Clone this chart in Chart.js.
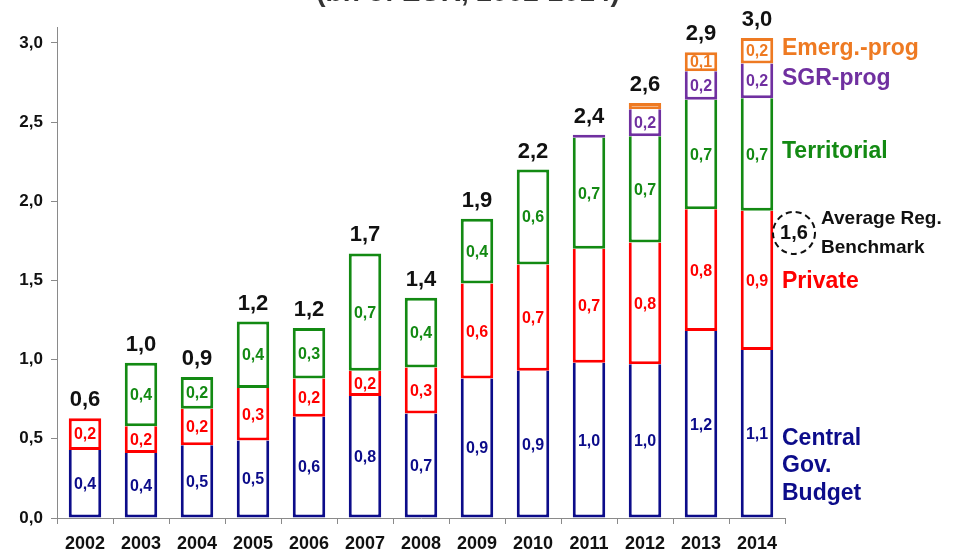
<!DOCTYPE html>
<html>
<head>
<meta charset="utf-8">
<script src="https://cdn.jsdelivr.net/npm/chart.js@4.4.1/dist/chart.umd.min.js"></script>
<style>
  html, body { margin: 0; padding: 0; background: #fff; }
  #wrap { width: 959px; height: 550px; position: relative; }
</style>
</head>
<body>
<div id="wrap"><canvas id="fundChart"></canvas></div>
<script>
const years = ["2002", "2003", "2004", "2005", "2006", "2007", "2008", "2009", "2010", "2011", "2012", "2013", "2014"];
const centralGov = [0.43, 0.41, 0.46, 0.49, 0.64, 0.77, 0.66, 0.88, 0.93, 0.98, 0.97, 1.18, 1.06];
const privateFunds = [0.2, 0.17, 0.23, 0.33, 0.24, 0.16, 0.29, 0.6, 0.67, 0.72, 0.77, 0.77, 0.88];
const territorial = [0, 0.4, 0.2, 0.42, 0.32, 0.74, 0.44, 0.41, 0.6, 0.7, 0.67, 0.69, 0.71];
const sgrProg = [0, 0, 0, 0, 0, 0, 0, 0, 0, 0.02, 0.17, 0.18, 0.22];
const emergProg = [0, 0, 0, 0, 0, 0, 0, 0, 0, 0, 0.04, 0.12, 0.16];
const yTicks = [0, 0.5, 1, 1.5, 2, 2.5, 3];
const benchmark = 1.6;

const seriesNames = ["Central Gov. Budget", "Private", "Territorial", "SGR-prog", "Emerg.-prog"];
const seriesValues = [centralGov, privateFunds, territorial, sgrProg, emergProg];
const seriesColors = ["#0c0c8a", "#ff0000", "#138a13", "#7030a0", "#ee7a22"];

const FONT = "'Liberation Sans', Arial, sans-serif";
const fmt = v => v.toFixed(1).replace(".", ",");

// top-most non empty segment of each year keeps its top border
function topIndex(i) {
  let top = 0;
  seriesValues.forEach((arr, d) => { if (arr[i] > 0) top = d; });
  return top;
}

const datasets = seriesValues.map((arr, d) => ({
  label: seriesNames[d],
  data: arr,
  backgroundColor: "#ffffff",
  borderColor: seriesColors[d],
  borderWidth: 3,
  borderSkipped: ctx => (topIndex(ctx.dataIndex) === ctx.datasetIndex ? false : "top"),
  barPercentage: 0.58,
  categoryPercentage: 1,
}));

const labelsPlugin = {
  id: "segmentLabels",
  afterDatasetsDraw(chart) {
    const c = chart.ctx;
    c.save();
    c.textAlign = "center";
    c.textBaseline = "middle";
    chart.data.datasets.forEach((ds, d) => {
      const meta = chart.getDatasetMeta(d);
      meta.data.forEach((bar, i) => {
        const v = ds.data[i];
        if (v < 0.1) return;
        c.fillStyle = seriesColors[d];
        c.font = "bold 16px " + FONT;
        c.fillText(fmt(v), bar.x, (bar.y + bar.base) / 2 + 1);
      });
    });
    // totals
    const y = chart.scales.y;
    const x = chart.scales.x;
    c.fillStyle = "#111";
    c.font = "bold 22px " + FONT;
    c.textBaseline = "alphabetic";
    years.forEach((yr, i) => {
      const total = seriesValues.reduce((s, arr) => s + arr[i], 0);
      c.fillText(fmt(total), x.getPixelForValue(i), y.getPixelForValue(total) - 12);
    });
    c.restore();
  },
};

const sideNotes = {
  id: "sideNotes",
  afterDraw(chart) {
    const c = chart.ctx;
    const y = chart.scales.y;
    const left = chart.chartArea.right - 3;
    c.save();
    c.textAlign = "left";
    c.textBaseline = "middle";
    c.font = "bold 23px " + FONT;
    const notes = [
      ["Emerg.-prog", 2.97, seriesColors[4]],
      ["SGR-prog", 2.78, seriesColors[3]],
      ["Territorial", 2.32, seriesColors[2]],
      ["Private", 1.5, seriesColors[1]],
      ["Central", 0.51, seriesColors[0]],
      ["Gov.", 0.335, seriesColors[0]],
      ["Budget", 0.158, seriesColors[0]],
    ];
    notes.forEach(([t, v, col]) => {
      c.fillStyle = col;
      c.fillText(t, left, y.getPixelForValue(v) + 1);
    });

    // benchmark bubble
    const cy = y.getPixelForValue(benchmark + 0.2);
    const cx = left + 12;
    c.strokeStyle = "#111";
    c.lineWidth = 2;
    c.setLineDash([6, 4]);
    c.beginPath();
    c.arc(cx, cy, 21, 0, Math.PI * 2);
    c.stroke();
    c.setLineDash([]);
    c.fillStyle = "#111";
    c.textAlign = "center";
    c.font = "bold 20px " + FONT;
    c.fillText(fmt(benchmark), cx, cy + 1);
    c.textAlign = "left";
    c.font = "bold 19px " + FONT;
    c.fillText("Average Reg.", cx + 27, cy - 14);
    c.fillText("Benchmark", cx + 27, cy + 15);

    // title, mostly cut by the top edge
    c.textAlign = "center";
    c.textBaseline = "alphabetic";
    c.fillStyle = "#333";
    c.font = "bold 28px " + FONT;
    c.fillText("(bn of EUR, 2002-2014)", 468, 1);
    c.restore();
  },
};

const ctx = document.getElementById("fundChart");

const fundChart = new Chart(ctx, {
  type: "bar",
  data: { labels: years, datasets: datasets },
  options: {
    responsive: true,
    maintainAspectRatio: false,
    animation: false,
    layout: { padding: { top: 27, right: 174, left: 0, bottom: 0 } },
    plugins: {
      legend: { display: false },
      tooltip: { enabled: false },
    },
    scales: {
      x: {
        stacked: true,
        afterFit: s => { s.height = 32; },
        grid: { display: true, drawOnChartArea: false, tickLength: 6, color: "#8a8a8a", offset: true },
        border: { color: "#8a8a8a", width: 1 },
        ticks: { color: "#111", font: { family: FONT, size: 18, weight: "bold" }, padding: 9 },
      },
      y: {
        stacked: true,
        min: 0,
        max: 3.1,
        afterFit: s => { s.width = 57; },
        afterBuildTicks: s => { s.ticks = yTicks.map(v => ({ value: v })); },
        grid: { display: true, drawOnChartArea: false, tickLength: 6, color: "#8a8a8a" },
        border: { color: "#8a8a8a", width: 1 },
        ticks: {
          color: "#111",
          padding: 8,
          font: { family: FONT, size: 17, weight: "bold" },
          callback: v => fmt(v),
        },
      },
    },
  },
  plugins: [labelsPlugin, sideNotes],
});
</script>
</body>
</html>
